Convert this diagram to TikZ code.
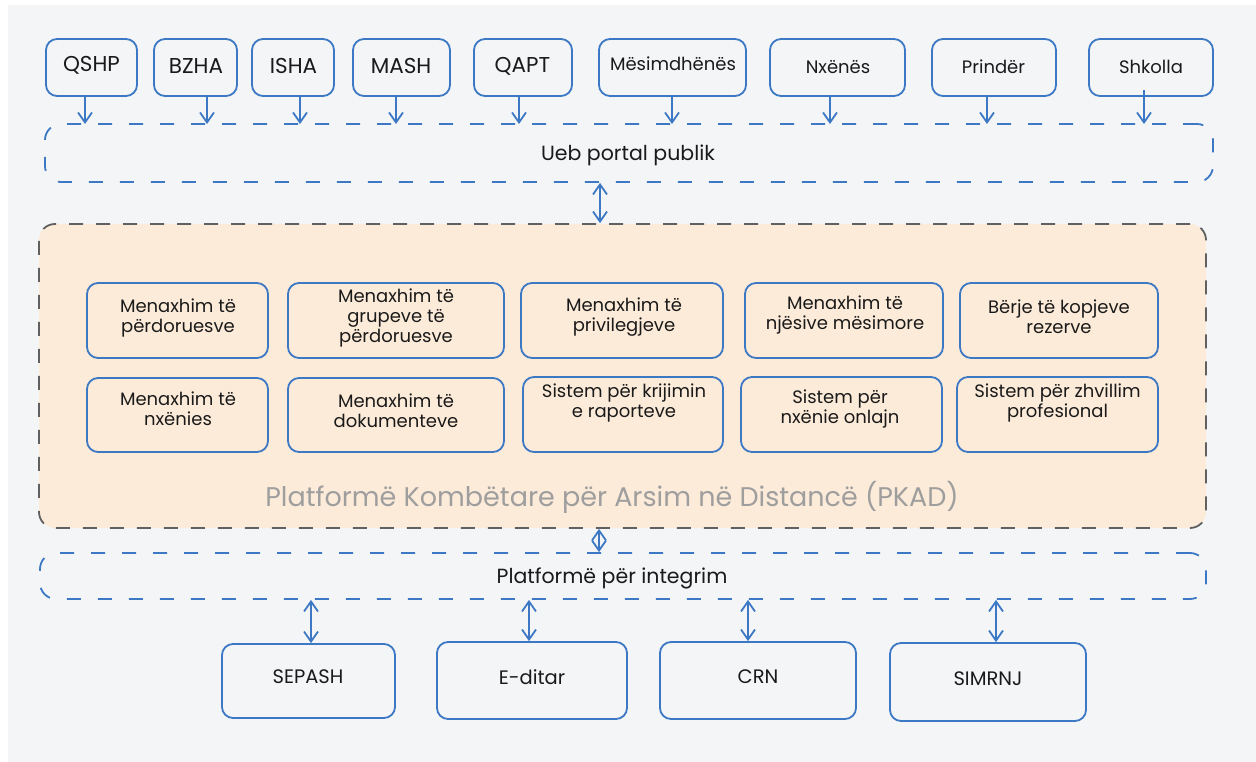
\documentclass[tikz,border=0pt]{standalone}
\usepackage{fontspec}
\setmainfont{Poppins}
\usetikzlibrary{arrows.meta,fit}
\definecolor{bgc}{HTML}{F4F5F7}
\definecolor{bl}{HTML}{3C78C3}
\definecolor{pk}{HTML}{FDEBD9}
\definecolor{pkb}{HTML}{606060}
\definecolor{tx}{HTML}{1A1A1A}
\definecolor{tg}{HTML}{9E9E9E}
\begin{document}
\begin{tikzpicture}[x=1pt,y=-1pt,
 box/.style={draw=bl, line width=1.8pt, rounded corners=11pt, inner sep=0pt},
 band/.style={draw=bl, line width=1.8pt, dash pattern=on 14pt off 17pt, rounded corners=16pt, inner sep=0pt},
 pkad/.style={draw=pkb, fill=pk, line width=1.8pt, dash pattern=on 14pt off 13pt, rounded corners=16pt, inner sep=0pt},
 tA/.style={text=tx, inner sep=0pt, font=\fontsize{21.5}{24}\selectfont},
 tB/.style={text=tx, inner sep=0pt, font=\fontsize{18}{21}\selectfont},
 tI/.style={text=tx, inner sep=0pt, align=center, font=\fontsize{18}{20}\selectfont},
 tP/.style={text=tx, inner sep=0pt, font=\fontsize{20.5}{24}\selectfont},
 tBot/.style={text=tx, inner sep=0pt, font=\fontsize{19.5}{22}\selectfont},
 arr/.style={draw=bl, line width=1.8pt, -{Straight Barb[length=10pt,width=14pt]}},
 darr/.style={draw=bl, line width=1.8pt, {Straight Barb[length=10pt,width=14pt]}-{Straight Barb[length=10pt,width=14pt]}}
]
\useasboundingbox (0,0) rectangle (1256,762);
\fill[white] (0,0) rectangle (1256,762);
\fill[bgc] (8,5) rectangle (1256,762);

% top boxes
\node[box, fit={(46,39)(137,96)}] (qshp) {};
\node[box, fit={(154,39)(237,96)}] (bzha) {};
\node[box, fit={(252,39)(334,96)}] (isha) {};
\node[box, fit={(353,39)(450,96)}] (mash) {};
\node[box, fit={(474,39)(572,96)}] (qapt) {};
\node[box, fit={(599,39)(746,96)}] (mes) {};
\node[box, fit={(770,39)(905,96)}] (nxe) {};
\node[box, fit={(932,39)(1056,96)}] (pri) {};
\node[box, fit={(1089,39)(1213,96)}] (shk) {};
\node[tA] (qshp-t) at (91.5,65) {QSHP};
\node[tA] (bzha-t) at (196,66) {BZHA};
\node[tA] (isha-t) at (293.5,66) {ISHA};
\node[tA] (mash-t) at (401,66) {MASH};
\node[tA] (qapt-t) at (522.5,66) {QAPT};
\node[tB] (mes-t) at (673,64) {Mësimdhënës};
\node[tB] (nxe-t) at (838,67) {Nxënës};
\node[tB] (pri-t) at (993.5,67) {Prindër};
\node[tB] (shk-t) at (1151,67) {Shkolla};

% portal band
\node[band, fit={(45,124)(1213,182)}] (portal) {};
\node[tP] (portal-t) at (628,155) {Ueb portal publik};

\coordinate (a1) at (85,124);
\coordinate (a2) at (207,124);
\coordinate (a3) at (300,124);
\coordinate (a4) at (396,124);
\coordinate (a5) at (519,124);
\coordinate (a6) at (672,124);
\coordinate (a7) at (830,124);
\coordinate (a8) at (987,124);
\coordinate (a9) at (1144,124);
\draw[arr] (qshp.south -| a1) -- (a1);
\draw[arr] (bzha.south -| a2) -- (a2);
\draw[arr] (isha.south -| a3) -- (a3);
\draw[arr] (mash.south -| a4) -- (a4);
\draw[arr] (qapt.south -| a5) -- (a5);
\draw[arr] (mes.south -| a6) -- (a6);
\draw[arr] (nxe.south -| a7) -- (a7);
\draw[arr] (pri.south -| a8) -- (a8);
\draw[arr] ([yshift=7pt]shk.south -| a9) -- (a9);

% PKAD
\node[pkad, fit={(39,224)(1206,528)}] (pkad) {};
\node[text=tg, inner sep=0pt, font=\fontsize{27}{30}\selectfont] (pkad-t) at (612,497) {Platformë Kombëtare për Arsim në Distancë (PKAD)};

\coordinate (d1) at (600,182);
\draw[darr] (portal.south -| d1) -- (pkad.north -| d1);

% inner boxes
\node[box, fit={(87,283)(268,358)}] (m1) {};
\node[box, fit={(288,283)(504,358)}] (m2) {};
\node[box, fit={(521,283)(723,358)}] (m3) {};
\node[box, fit={(745,283)(943,358)}] (m4) {};
\node[box, fit={(960,283)(1158,358)}] (m5) {};
\node[box, fit={(87,378)(268,452)}] (n1) {};
\node[box, fit={(288,378)(504,452)}] (n2) {};
\node[box, fit={(523,377)(723,452)}] (n3) {};
\node[box, fit={(741,377)(942,452)}] (n4) {};
\node[box, fit={(957,377)(1158,452)}] (n5) {};
\node[tI] (m1-t) at (178,317.5) {Menaxhim të\\përdoruesve};
\node[tI] (m2-t) at (396,318) {Menaxhim të\\grupeve të\\përdoruesve};
\node[tI] (m3-t) at (624,317.5) {Menaxhim të\\privilegjeve};
\node[tI] (m4-t) at (845,315) {Menaxhim të\\njësive mësimore};
\node[tI] (m5-t) at (1059,317) {Bërje të kopjeve\\rezerve};
\node[tI] (n1-t) at (178,409) {Menaxhim të\\nxënies};
\node[tI] (n2-t) at (396,410.5) {Menaxhim të\\dokumenteve};
\node[tI] (n3-t) at (624,403) {Sistem për krijimin\\e raporteve};
\node[tI] (n4-t) at (840,409) {Sistem për\\nxënie onlajn};
\node[tI] (n5-t) at (1057.5,403) {Sistem për zhvillim\\profesional};

% integration band
\node[band, fit={(40,553)(1206,599)}] (integ) {};
\node[tP] (integ-t) at (612,578) {Platformë për integrim};
\coordinate (d2) at (599,553);
\draw[darr] (pkad.south -| d2) -- (integ.north -| d2);

% bottom boxes
\node[box, fit={(222,644)(395,718)}] (sep) {};
\node[box, fit={(437,642)(627,719)}] (edi) {};
\node[box, fit={(660,642)(856,719)}] (crn) {};
\node[box, fit={(890,643)(1086,721)}] (sim) {};
\node[tBot] (sep-t) at (308,677) {SEPASH};
\node[tBot] (edi-t) at (532,677) {E-ditar};
\node[tBot] (crn-t) at (758,677) {CRN};
\node[tBot] (sim-t) at (988,679) {SIMRNJ};

\coordinate (b1) at (311,599);
\coordinate (b2) at (529,599);
\coordinate (b3) at (748,599);
\coordinate (b4) at (996,599);
\draw[darr] (integ.south -| b1) -- (sep.north -| b1);
\draw[darr] (integ.south -| b2) -- (edi.north -| b2);
\draw[darr] (integ.south -| b3) -- (crn.north -| b3);
\draw[darr] (integ.south -| b4) -- (sim.north -| b4);
\end{tikzpicture}
\end{document}
